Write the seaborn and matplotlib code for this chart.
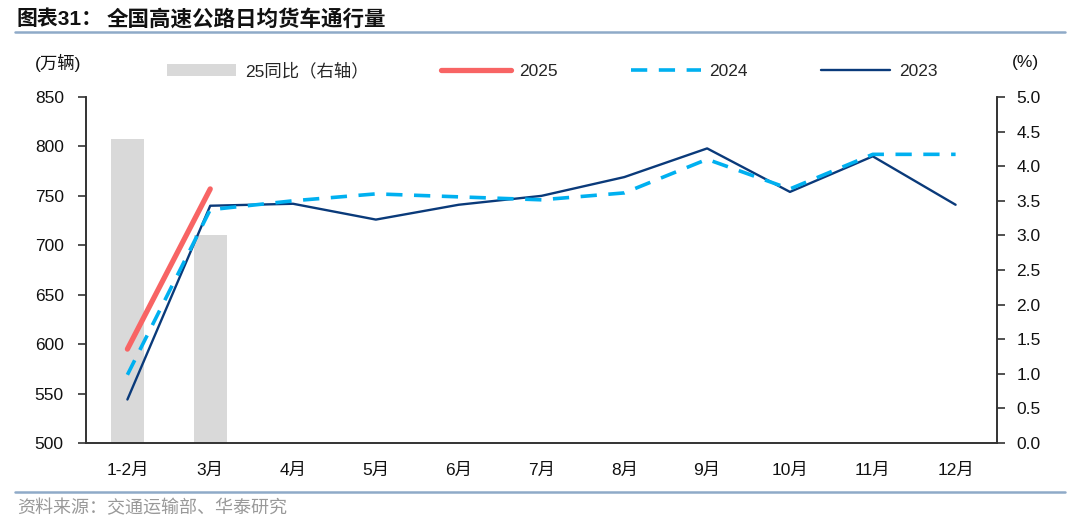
import matplotlib
matplotlib.use("Agg")
import matplotlib.pyplot as plt
import seaborn as sns
import numpy as np
import pandas as pd
from matplotlib.lines import Line2D
from matplotlib.patches import Patch

months = ["1-2月", "3月", "4月", "5月", "6月", "7月", "8月", "9月", "10月", "11月", "12月"]
v2025 = [595, 757]
v2024 = [569, 736, 745, 752, 749, 746, 753, 787, 757, 792, 792]
v2023 = [544, 740, 742, 726, 741, 750, 769, 798, 754, 790, 741]
yoy25 = [4.4, 3.0]

sns.set_theme(style="white")
plt.rcParams['font.family'] = ['Liberation Sans', 'Noto Sans CJK SC', 'DejaVu Sans']

C25 = "#F86464"
C24 = "#00B0F0"
C23 = "#0A3A7A"
CBAR = "#D9D9D9"
CLINE = "#8FAAC8"

fig = plt.figure(figsize=(10.8, 5.27), dpi=100)
ax = fig.add_axes([86/1080, 1-443/527, (997-86)/1080, (443-97)/527])
ax2 = ax.twinx()

pos = np.arange(len(months))
bar_df = pd.DataFrame({"x": pos[:len(yoy25)], "y": yoy25})
sns.barplot(data=bar_df, x="x", y="y", ax=ax2, native_scale=True, width=0.4,
            color=CBAR, saturation=1, edgecolor="none", linewidth=0)

df23 = pd.DataFrame({"x": pos, "y": v2023})
df24 = pd.DataFrame({"x": pos, "y": v2024})
df25 = pd.DataFrame({"x": pos[:len(v2025)], "y": v2025})
sns.lineplot(data=df23, x="x", y="y", ax=ax, color=C23, linewidth=1.7)
sns.lineplot(data=df24, x="x", y="y", ax=ax, color=C24, linewidth=2.6,
             dashes=False)
ax.lines[-1].set_dashes([4.5, 3.2])
sns.lineplot(data=df25, x="x", y="y", ax=ax, color=C25, linewidth=3.8)
ax.lines[-1].set_solid_capstyle("round")

ax.set_zorder(ax2.get_zorder() + 1)
ax.patch.set_visible(False)

ax.set_xlim(-0.5, len(months) - 0.5)
ax.set_ylim(500, 850)
ax.set_yticks(np.arange(500, 851, 50))
ax2.set_ylim(0, 5)
ax2.set_yticks(np.arange(0, 5.01, 0.5))
ax2.set_yticklabels([f"{v:.1f}" for v in np.arange(0, 5.01, 0.5)])

ax.set_xticks(np.arange(-0.5, len(months), 1))
ax.set_xticklabels([])
ax.set_xticks(pos, minor=True)
ax.set_xticklabels(months, minor=True)
ax.tick_params(axis="x", which="major", direction="out", length=6, width=1.2, color="#333333")
ax.tick_params(axis="x", which="minor", length=0, pad=14, labelsize=12.5, labelcolor="#111111")
ax.tick_params(axis="y", direction="out", length=6, width=1.2, color="#333333", pad=10,
               labelsize=12.5, labelcolor="#111111")
ax2.tick_params(axis="y", direction="out", length=6, width=1.2, color="#333333", pad=8,
                labelsize=12.5, labelcolor="#111111")
ax.set_xlabel("")
ax.set_ylabel("")
ax2.set_xlabel("")
ax2.set_ylabel("")

for a in (ax, ax2):
    a.spines["top"].set_visible(False)
    for s in ("left", "right", "bottom"):
        a.spines[s].set_color("#333333")
        a.spines[s].set_linewidth(1.2)
    a.grid(False)

# legend
handles = [Patch(facecolor=CBAR, edgecolor="none"),
           Line2D([], [], color=C25, linewidth=3.8, solid_capstyle="round"),
           Line2D([], [], color=C24, linewidth=2.6, dashes=[4.5, 3.2]),
           Line2D([], [], color=C23, linewidth=1.7)]
labels = ["25同比（右轴）", "2025", "2024", "2023"]
fig.legend(handles, labels, loc="center", bbox_to_anchor=(552/1080, 1-71/527), ncol=4,
           frameon=False, fontsize=12.5, handlelength=4.0, handletextpad=0.5,
           columnspacing=4.2)

fig.text(35/1080, 1-63/527, "(万辆)", fontsize=12.5, color="#111111", va="center", ha="left")
fig.text(1012/1080, 1-62/527, "(%)", fontsize=12.5, color="#111111", va="center", ha="left")

# title and rules
fig.text(17/1080, 1-19/527, "图表31：", fontsize=15,
         fontweight="bold", color="#111111", va="center", ha="left",
         family=['Liberation Sans', 'Noto Sans CJK SC'])
fig.text(107/1080, 1-19/527, "全国高速公路日均货车通行量", fontsize=15.5,
         fontweight="bold", color="#111111", va="center", ha="left",
         family=['Noto Sans CJK SC', 'DejaVu Sans'])
fig.add_artist(Line2D([15/1080, 1065/1080], [1-32/527, 1-32/527], color=CLINE, linewidth=1.8))
fig.add_artist(Line2D([15/1080, 1065/1080], [1-492/527, 1-492/527], color=CLINE, linewidth=1.8))
fig.text(17/1080, 1-508/527, "资料来源：交通运输部、华泰研究", fontsize=13,
         color="#999999", va="center", ha="left", family=['Noto Sans CJK SC', 'DejaVu Sans'])

fig.savefig("out.png", dpi=100)
